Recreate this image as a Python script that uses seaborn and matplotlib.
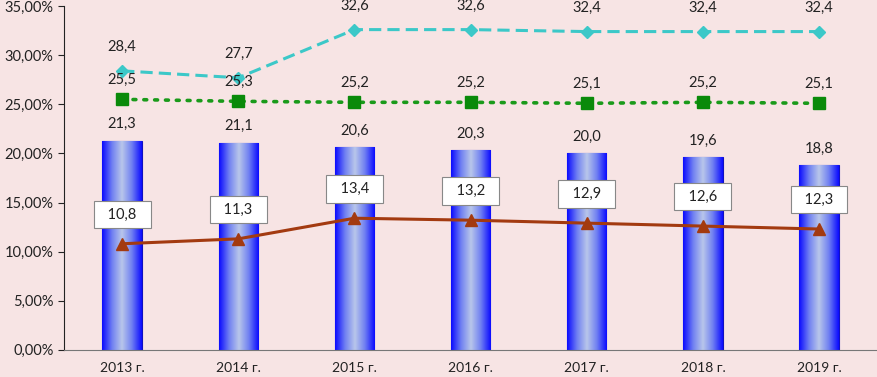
import numpy as np
import pandas as pd
import matplotlib
matplotlib.use("Agg")
import matplotlib.pyplot as plt
import seaborn as sns
from matplotlib.ticker import FuncFormatter

years = ["2013 г.", "2014 г.", "2015 г.", "2016 г.", "2017 г.", "2018 г.", "2019 г."]
bars = [21.3, 21.1, 20.6, 20.3, 20.0, 19.6, 18.8]
cyan_line = [28.4, 27.7, 32.6, 32.6, 32.4, 32.4, 32.4]
green_line = [25.5, 25.3, 25.2, 25.2, 25.1, 25.2, 25.1]
brown_line = [10.8, 11.3, 13.4, 13.2, 12.9, 12.6, 12.3]

sns.set_style("white")
plt.rcParams["font.family"] = ["Lato", "DejaVu Sans"]

bg = "#f7e4e4"
fig = plt.figure(figsize=(8.78, 3.77), dpi=100, facecolor=bg)
ax = fig.add_axes([0.073, 0.072, 0.926, 0.912])
ax.set_facecolor(bg)

df = pd.DataFrame({"year": years, "val": bars})
sns.barplot(data=df, x="year", y="val", width=0.34, color="#2030f0", ax=ax)

# cylinder-like gradient on the bars
grad = np.abs(np.linspace(-1, 1, 256))
cmap = matplotlib.colors.LinearSegmentedColormap.from_list(
    "cyl", ["#b8c6ea", "#6f7ff2", "#0a0aff"])
for p in ax.patches:
    x0, y0 = p.get_x(), p.get_y()
    w, h = p.get_width(), p.get_height()
    im = ax.imshow(grad[None, :], cmap=cmap, aspect="auto",
                   extent=[x0, x0 + w, y0, y0 + h], zorder=2)
    im.set_clip_path(p)
    p.set_edgecolor("#1010c0")
    p.set_linewidth(0.8)

xs = np.arange(len(years))
ax.plot(xs, cyan_line, color="#3cc8c8", ls=(0, (4, 2)), lw=2.2,
        marker="D", ms=6, zorder=4)
ax.plot(xs, green_line, color="#1a9a1a", ls=(0, (0.8, 2.2)), lw=2.6,
        dash_capstyle="round", marker="s", ms=8, mfc="#0a8a0a", mec="#0a8a0a", zorder=4)
ax.plot(xs, brown_line, color="#a33a10", lw=2.2, marker="^", ms=9, zorder=4)

def fmt(v):
    return f"{v:.1f}".replace(".", ",")

fs = 10.5
for i in range(len(years)):
    ax.annotate(fmt(bars[i]), (xs[i], bars[i]), xytext=(0, 12),
                textcoords="offset points", ha="center", va="center",
                fontsize=fs, color="#222222", zorder=6)
    ax.annotate(fmt(cyan_line[i]), (xs[i], cyan_line[i]), xytext=(0, 17),
                textcoords="offset points", ha="center", va="center",
                fontsize=fs, color="#222222", zorder=6)
    ax.annotate(fmt(green_line[i]), (xs[i], green_line[i]), xytext=(0, 14),
                textcoords="offset points", ha="center", va="center",
                fontsize=fs, color="#222222", zorder=6)
    ax.annotate("  " + fmt(brown_line[i]) + "  ", (xs[i], brown_line[i]), xytext=(0, 21),
                textcoords="offset points", ha="center", va="center",
                fontsize=fs, color="#222222", zorder=6,
                bbox=dict(boxstyle="square,pad=0.45", fc="white", ec="#888888", lw=0.8))

ax.set_xlim(-0.5, len(years) - 0.5)
ax.set_ylim(0, 35)
ax.set_yticks(np.arange(0, 36, 5))
ax.yaxis.set_major_formatter(FuncFormatter(lambda v, _: f"{v:.2f}%".replace(".", ",")))
ax.set_xticks(xs)
ax.set_xticklabels(years)
ax.set_xticks(np.arange(-0.5, len(years), 1), minor=True)
ax.tick_params(axis="x", which="major", length=0, labelsize=10, pad=9, colors="#222222")
ax.tick_params(axis="x", which="minor", length=4, direction="out", color="#555555")
ax.tick_params(axis="y", length=4, direction="out", labelsize=10.5, colors="#222222", left=True)
ax.set_xlabel("")
ax.set_ylabel("")
for s in ["top", "right"]:
    ax.spines[s].set_visible(False)
ax.spines["left"].set_color("#222222")
ax.spines["bottom"].set_color("#777777")

fig.savefig("out.png", dpi=100, facecolor=bg)
